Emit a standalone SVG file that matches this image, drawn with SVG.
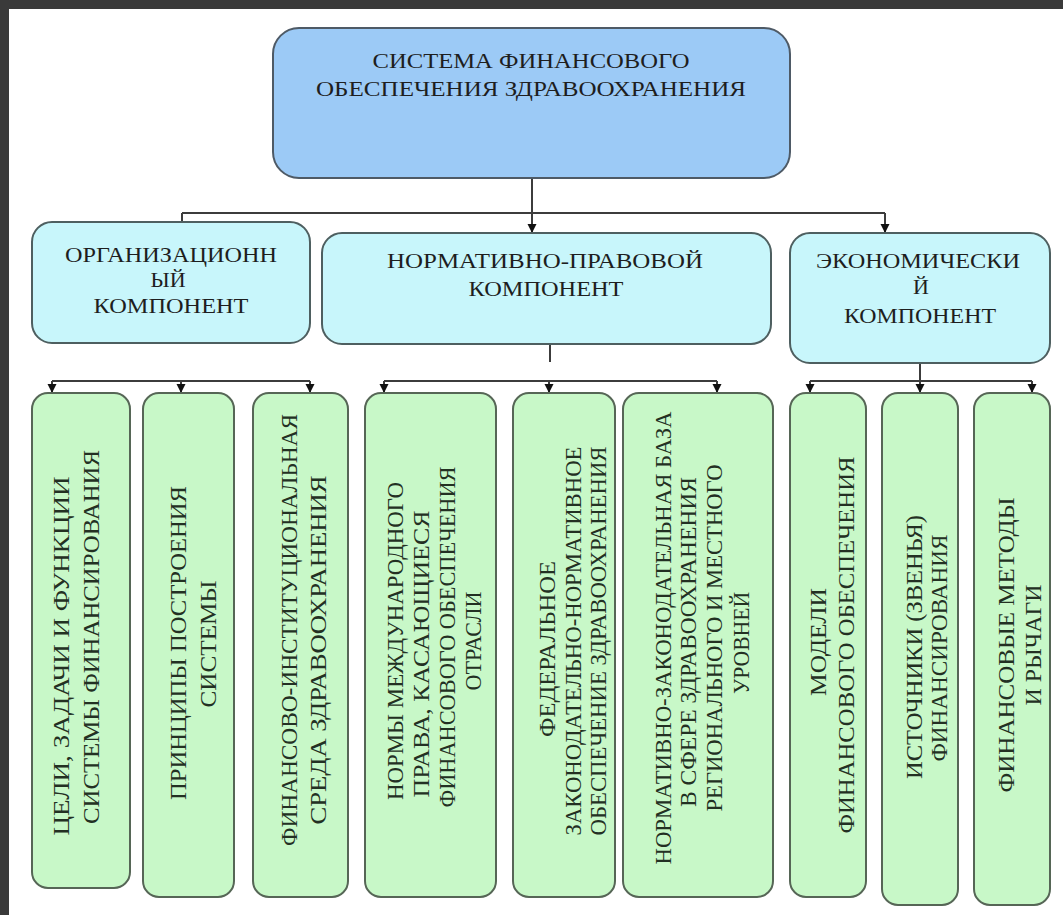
<svg xmlns="http://www.w3.org/2000/svg" width="1063" height="915" viewBox="0 0 1063 915">
<style>
.t{font-family:"Liberation Serif","Times New Roman",serif;fill:#1e1e1e;text-anchor:middle}
.h{font-size:22px}
.v{font-size:23px;fill:#233023}
.top{fill:#9ccaf6;stroke:#4e5a66;stroke-width:2}
.mid{fill:#c8f6fb;stroke:#4e5f60;stroke-width:2}
.leaf{fill:#c8f8c8;stroke:#566656;stroke-width:2}
.ln{stroke:#3c3c3c;stroke-width:2;fill:none}
</style>
<defs>
<marker id="ah" markerUnits="userSpaceOnUse" markerWidth="10" markerHeight="10" refX="9" refY="5" orient="auto">
<path d="M0,0.5 L9,5 L0,9.5 z" fill="#111"/>
</marker>
</defs>
<rect x="0" y="0" width="1063" height="915" fill="#ffffff"/>
<rect x="0" y="0" width="1063" height="9" fill="#3a3a3a"/>
<rect x="0" y="0" width="9" height="915" fill="#3a3a3a"/>

<g id="connectors">
<path class="ln" d="M532,178 V213 M182,213 H885 M182,213 V222"/>
<path class="ln" d="M532,213 V233" marker-end="url(#ah)"/>
<path class="ln" d="M885,213 V233" marker-end="url(#ah)"/>
<path class="ln" d="M52,381 H310"/>
<path class="ln" d="M52,381 V393" marker-end="url(#ah)"/>
<path class="ln" d="M181,381 V393" marker-end="url(#ah)"/>
<path class="ln" d="M310,381 V393" marker-end="url(#ah)"/>
<path class="ln" d="M550,344 V362"/>
<path class="ln" d="M384,381 H717"/>
<path class="ln" d="M384,381 V393" marker-end="url(#ah)"/>
<path class="ln" d="M549,381 V393" marker-end="url(#ah)"/>
<path class="ln" d="M717,381 V393" marker-end="url(#ah)"/>
<path class="ln" d="M920,363 V381 M810,381 H1032"/>
<path class="ln" d="M810,381 V393" marker-end="url(#ah)"/>
<path class="ln" d="M920,381 V393" marker-end="url(#ah)"/>
<path class="ln" d="M1032,381 V393" marker-end="url(#ah)"/>
</g>

<g id="root">
<rect class="top" x="273" y="28" width="517" height="150" rx="26"/>
<text class="t h" x="531" y="68" textLength="317" lengthAdjust="spacingAndGlyphs">СИСТЕМА ФИНАНСОВОГО</text>
<text class="t h" x="531" y="96" textLength="430" lengthAdjust="spacingAndGlyphs">ОБЕСПЕЧЕНИЯ ЗДРАВООХРАНЕНИЯ</text>
</g>

<g id="org">
<rect class="mid" x="32" y="222" width="278" height="121" rx="20"/>
<text class="t h" x="171" y="262" textLength="212" lengthAdjust="spacingAndGlyphs">ОРГАНИЗАЦИОНН</text>
<text class="t h" x="168" y="287">ЫЙ</text>
<text class="t h" x="171" y="313" textLength="155" lengthAdjust="spacingAndGlyphs">КОМПОНЕНТ</text>
</g>

<g id="norm">
<rect class="mid" x="322" y="233" width="449" height="111" rx="20"/>
<text class="t h" x="545" y="268" textLength="316" lengthAdjust="spacingAndGlyphs">НОРМАТИВНО-ПРАВОВОЙ</text>
<text class="t h" x="546" y="296" textLength="155" lengthAdjust="spacingAndGlyphs">КОМПОНЕНТ</text>
</g>

<g id="econ">
<rect class="mid" x="790" y="233" width="260" height="130" rx="20"/>
<text class="t h" x="918" y="268" textLength="204" lengthAdjust="spacingAndGlyphs">ЭКОНОМИЧЕСКИ</text>
<text class="t h" x="921" y="294">Й</text>
<text class="t h" x="920" y="323" textLength="152" lengthAdjust="spacingAndGlyphs">КОМПОНЕНТ</text>
</g>

<g id="leaf1">
<rect class="leaf" x="32" y="393" width="98" height="495" rx="16"/>
<text class="t v" transform="translate(69,656) rotate(-90)" textLength="359" lengthAdjust="spacingAndGlyphs">ЦЕЛИ, ЗАДАЧИ И ФУНКЦИИ</text>
<text class="t v" transform="translate(99,637) rotate(-90)" textLength="374" lengthAdjust="spacingAndGlyphs">СИСТЕМЫ ФИНАНСИРОВАНИЯ</text>
</g>

<g id="leaf2">
<rect class="leaf" x="143" y="393" width="91" height="504" rx="16"/>
<text class="t v" transform="translate(186,643) rotate(-90)" textLength="314" lengthAdjust="spacingAndGlyphs">ПРИНЦИПЫ ПОСТРОЕНИЯ</text>
<text class="t v" transform="translate(216,644) rotate(-90)" textLength="127" lengthAdjust="spacingAndGlyphs">СИСТЕМЫ</text>
</g>

<g id="leaf3">
<rect class="leaf" x="253" y="393" width="95" height="504" rx="16"/>
<text class="t v" transform="translate(297,630) rotate(-90)" textLength="432" lengthAdjust="spacingAndGlyphs">ФИНАНСОВО-ИНСТИТУЦИОНАЛЬНАЯ</text>
<text class="t v" transform="translate(326,650) rotate(-90)" textLength="349" lengthAdjust="spacingAndGlyphs">СРЕДА ЗДРАВООХРАНЕНИЯ</text>
</g>

<g id="leaf4">
<rect class="leaf" x="365" y="393" width="131" height="504" rx="16"/>
<text class="t v" transform="translate(403,641) rotate(-90)" textLength="318" lengthAdjust="spacingAndGlyphs">НОРМЫ МЕЖДУНАРОДНОГО</text>
<text class="t v" transform="translate(429,654) rotate(-90)" textLength="287" lengthAdjust="spacingAndGlyphs">ПРАВА,  КАСАЮЩИЕСЯ</text>
<text class="t v" transform="translate(455,637) rotate(-90)" textLength="341" lengthAdjust="spacingAndGlyphs">ФИНАНСОВОГО ОБЕСПЕЧЕНИЯ</text>
<text class="t v" transform="translate(481,641) rotate(-90)" textLength="99" lengthAdjust="spacingAndGlyphs">ОТРАСЛИ</text>
</g>

<g id="leaf5">
<rect class="leaf" x="513" y="393" width="102" height="504" rx="16"/>
<text class="t v" transform="translate(555,649) rotate(-90)" textLength="176" lengthAdjust="spacingAndGlyphs">ФЕДЕРАЛЬНОЕ</text>
<text class="t v" transform="translate(581,641) rotate(-90)" textLength="389" lengthAdjust="spacingAndGlyphs">ЗАКОНОДАТЕЛЬНО-НОРМАТИВНОЕ</text>
<text class="t v" transform="translate(606,641) rotate(-90)" textLength="389" lengthAdjust="spacingAndGlyphs">ОБЕСПЕЧЕНИЕ ЗДРАВООХРАНЕНИЯ</text>
</g>

<g id="leaf6">
<rect class="leaf" x="623" y="393" width="150" height="504" rx="16"/>
<text class="t v" transform="translate(671,638) rotate(-90)" textLength="453" lengthAdjust="spacingAndGlyphs">НОРМАТИВНО-ЗАКОНОДАТЕЛЬНАЯ БАЗА</text>
<text class="t v" transform="translate(696,642) rotate(-90)" textLength="330" lengthAdjust="spacingAndGlyphs">В СФЕРЕ ЗДРАВООХРАНЕНИЯ</text>
<text class="t v" transform="translate(722,638) rotate(-90)" textLength="347" lengthAdjust="spacingAndGlyphs">РЕГИОНАЛЬНОГО И МЕСТНОГО</text>
<text class="t v" transform="translate(749,643) rotate(-90)" textLength="102" lengthAdjust="spacingAndGlyphs">УРОВНЕЙ</text>
</g>

<g id="leaf7">
<rect class="leaf" x="790" y="393" width="76" height="504" rx="16"/>
<text class="t v" transform="translate(826,642) rotate(-90)" textLength="108" lengthAdjust="spacingAndGlyphs">МОДЕЛИ</text>
<text class="t v" transform="translate(854,645) rotate(-90)" textLength="377" lengthAdjust="spacingAndGlyphs">ФИНАНСОВОГО ОБЕСПЕЧЕНИЯ</text>
</g>

<g id="leaf8">
<rect class="leaf" x="882" y="393" width="76" height="512" rx="16"/>
<text class="t v" transform="translate(922,647) rotate(-90)" textLength="264" lengthAdjust="spacingAndGlyphs">ИСТОЧНИКИ (ЗВЕНЬЯ)</text>
<text class="t v" transform="translate(947,648) rotate(-90)" textLength="227" lengthAdjust="spacingAndGlyphs">ФИНАНСИРОВАНИЯ</text>
</g>

<g id="leaf9">
<rect class="leaf" x="974" y="393" width="76" height="512" rx="16"/>
<text class="t v" transform="translate(1014,645) rotate(-90)" textLength="295" lengthAdjust="spacingAndGlyphs">ФИНАНСОВЫЕ МЕТОДЫ</text>
<text class="t v" transform="translate(1041,645) rotate(-90)" textLength="121" lengthAdjust="spacingAndGlyphs">И РЫЧАГИ</text>
</g>
</svg>
